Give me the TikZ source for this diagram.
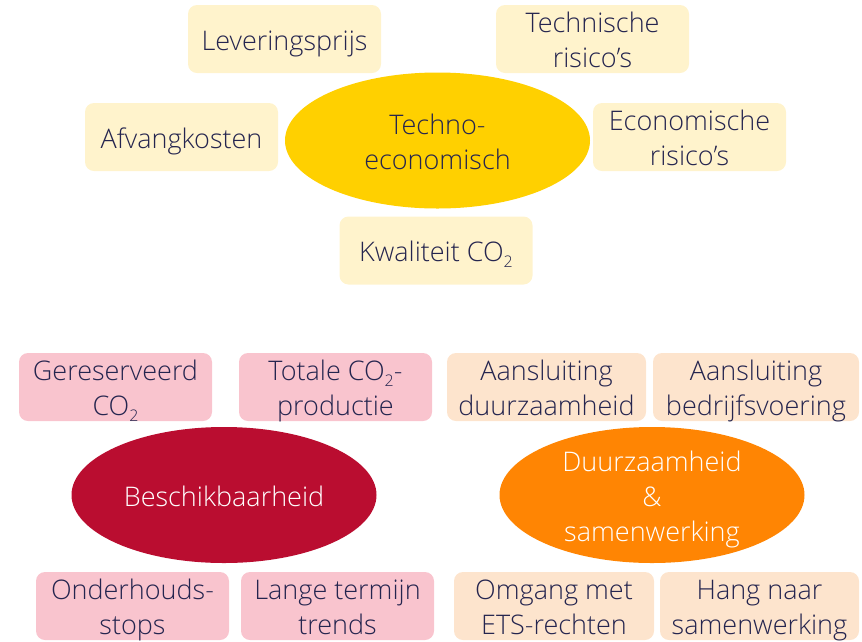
\documentclass[tikz,border=0pt]{standalone}
\usepackage{fontspec}
\setmainfont{Open Sans Light}
\usetikzlibrary{shapes.geometric}
\definecolor{ink}{HTML}{25254F}
\definecolor{paleyellow}{HTML}{FFF3CC}
\definecolor{palepink}{HTML}{F9C4CE}
\definecolor{palepeach}{HTML}{FDE4CD}
\definecolor{gold}{HTML}{FFD000}
\definecolor{crimson}{HTML}{BA0D30}
\definecolor{tangerine}{HTML}{FF8503}
\newcommand\cotwo{CO\raisebox{-6pt}{\fontsize{16}{16}\selectfont 2}}
% top strut for the first line of every label
\newcommand\ts{\rule{0pt}{30.5pt}}
\tikzset{
  % top strut in the text plus a bottom strut here, so all labels share baselines
  txt/.style={align=center, font=\fontsize{27}{35}\selectfont,
    execute at end node=\rule[-8pt]{0pt}{0pt}},
  % negative vertical padding keeps the struts from stretching the boxes
  box/.style={txt, rounded corners=9pt, minimum width=193pt, minimum height=68pt,
    inner xsep=0pt, inner ysep=-6pt, text=ink},
  ybox/.style={box, fill=paleyellow},
  pbox/.style={box, fill=palepink},
  obox/.style={box, fill=palepeach},
  hub/.style={txt, ellipse, inner sep=-12pt, minimum width=305pt, minimum height=136pt},
}
\begin{document}
\begin{tikzpicture}[x=1pt,y=-1pt]
\useasboundingbox (0,0) rectangle (862,641);

% Techno-economic cluster
\node[hub, fill=gold, text=ink] (techno) at (437.5,140.5) {\ts Techno-\\economisch};
\node[ybox] (lever) at (284.5,39) {\ts Leveringsprijs};
\node[ybox] (techrisk) at (592.5,39) {\ts Technische\\risico’s};
\node[ybox] (afvang) at (181.5,137) {\ts Afvangkosten};
\node[ybox] (econrisk) at (689.5,137) {\ts Economische\\risico’s};
\node[ybox] (kwal) at (436,250.5) {\ts Kwaliteit \cotwo};

% Availability cluster
\node[hub, fill=crimson, text=white] (beschik) at (224,495) {\ts Beschikbaarheid};
\node[pbox] (gereserveerd) at (115.5,387) {\ts Gereserveerd\\\cotwo};
\node[pbox] (totale) at (335.5,387) {\ts Totale \cotwo-\\productie};
\node[pbox] (onderhoud) at (132.5,606) {\ts Onderhouds-\\stops};
\node[pbox] (lange) at (337.5,606) {\ts Lange termijn\\trends};

% Sustainability cluster
\node[hub, fill=tangerine, text=white] (duurzaam) at (652,495) {\ts Duurzaamheid\\\&\\samenwerking};
\node[obox, minimum width=199pt] (aansduur) at (546.5,387) {\ts Aansluiting\\duurzaamheid};
\node[obox, minimum width=206pt] (aansbedr) at (756,387) {\ts Aansluiting\\bedrijfsvoering};
\node[obox, minimum width=200pt] (omgang) at (554,606) {\ts Omgang met\\ETS-rechten};
\node[obox, minimum width=199pt] (hang) at (759.5,606) {\ts Hang naar\\samenwerking};
\end{tikzpicture}
\end{document}
